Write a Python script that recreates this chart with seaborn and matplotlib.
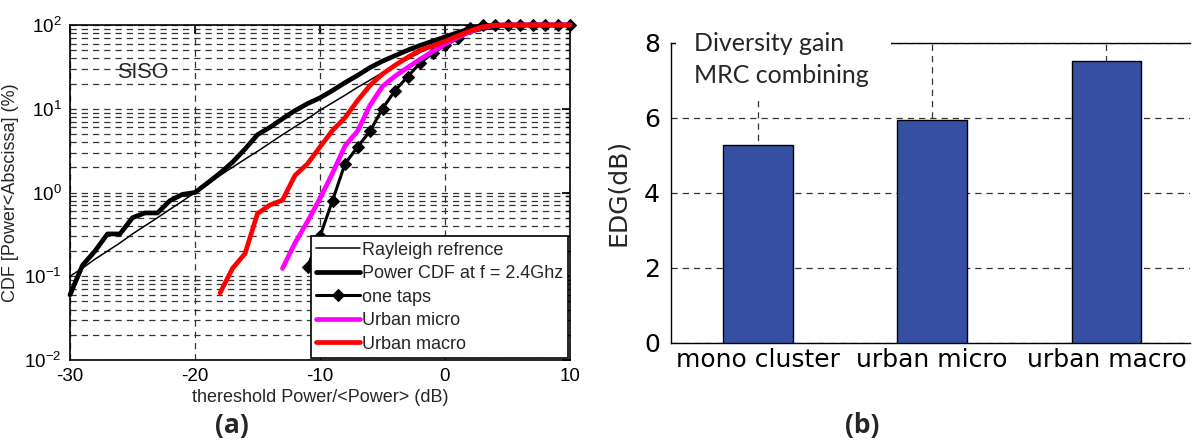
import matplotlib
matplotlib.use("Agg")
import matplotlib.pyplot as plt
from matplotlib.patches import Rectangle
import seaborn as sns

# ---- data ----
# (a) CDF curves, x in dB, y in %
db_ref = [-30, -29, -28, -27, -26, -25, -24, -23, -22, -21, -20, -19, -18, -17,
          -16, -15, -14, -13, -12, -11, -10, -9, -8, -7, -6, -5, -4, -3, -2,
          -1, 0, 1, 2, 3, 4, 5, 6, 7, 8, 9, 10]
rayleigh = [0.10, 0.125, 0.16, 0.20, 0.25, 0.32, 0.40, 0.50, 0.63, 0.79, 1.0,
            1.25, 1.6, 2.0, 2.5, 3.1, 3.9, 4.9, 6.1, 7.6, 9.6, 11.8, 14.5, 18,
            22, 27, 33, 39, 47, 55, 63, 72, 80, 87, 92, 96, 98, 99.4, 99.8,
            100, 100]
power_cdf = [0.06, 0.135, 0.2, 0.32, 0.32, 0.5, 0.57, 0.57, 0.8, 0.95, 1.0,
             1.3, 1.7, 2.3, 3.3, 4.9, 6.0, 7.6, 9.5, 11.5, 13.5, 16.5, 20.5, 25,
             31, 37, 43, 50, 57, 64, 72, 81, 90, 96, 99, 100, 100, 100, 100,
             100, 100]

db_taps = [-11, -10, -9, -8, -7, -6, -5, -4, -3, -2, -1, 0, 1, 2, 3, 4, 5, 6,
           7, 8, 9, 10]
one_taps = [0.13, 0.3, 0.8, 2.2, 3.5, 5.4, 10, 16.5, 24, 35, 46, 57, 69, 93,
            100, 100, 100, 100, 100, 100, 100, 100]

db_micro = [-13, -12, -11, -10, -9, -8, -7, -6, -5, -4, -3, -2, -1, 0, 1, 2,
            3, 4, 5, 6, 7, 8, 9, 10]
urban_micro = [0.124, 0.25, 0.45, 0.85, 1.7, 3.6, 5.4, 11, 18.5, 24.5, 31, 39,
               48, 59, 71, 83, 94, 99, 100, 100, 100, 100, 100, 100]

db_macro = [-18, -17, -16, -15, -14, -13, -12, -11, -10, -9, -8, -7, -6, -5,
            -4, -3, -2, -1, 0, 1, 2, 3, 4, 5, 6, 7, 8, 9, 10]
urban_macro = [0.063, 0.124, 0.186, 0.56, 0.71, 0.81, 1.6, 2.2, 3.5, 5.5, 7.8,
               12.5, 19, 26, 33, 41, 50, 56, 64, 74, 85, 95, 99.5, 100, 100,
               100, 100, 100, 100]

# (b) diversity gain
scenarios = ["mono cluster", "urban micro", "urban macro"]
edg_db = [5.27, 5.94, 7.51]

sns.set_theme(style="white")
plt.rcParams["font.family"] = ["Liberation Sans", "DejaVu Sans"]
plt.rcParams["mathtext.default"] = "regular"
plt.rcParams["axes.unicode_minus"] = False

fig = plt.figure(figsize=(11.92, 4.45), dpi=100)
W, H = 1192, 445

grid_kw = dict(color="#333333", linestyle=(0, (5, 4)), linewidth=0.9)

# ---------------- (a) ----------------
ax = fig.add_axes([70 / W, (H - 360) / H, 500 / W, 335 / H])
sns.lineplot(x=db_ref, y=rayleigh, ax=ax, color="black", linewidth=1.1,
             label="Rayleigh refrence", clip_on=False, zorder=3)
sns.lineplot(x=db_ref, y=power_cdf, ax=ax, color="black", linewidth=3.4,
             label="Power CDF at f = 2.4Ghz", clip_on=False, zorder=3)
sns.lineplot(x=db_taps, y=one_taps, ax=ax, color="black", linewidth=2.2,
             marker="D", markersize=6.5, markeredgecolor="black",
             label="one taps", clip_on=False, zorder=3)
sns.lineplot(x=db_micro, y=urban_micro, ax=ax, color="#ff00ff", linewidth=3.4,
             label="Urban micro", clip_on=False, zorder=3)
sns.lineplot(x=db_macro, y=urban_macro, ax=ax, color="#ff0000", linewidth=3.4,
             label="Urban macro", clip_on=False, zorder=3)

ax.set_yscale("log")
ax.set_xlim(-30, 10)
ax.set_ylim(1e-2, 1e2)
ax.set_xticks([-30, -20, -10, 0, 10])
ax.grid(True, which="major", axis="x", **grid_kw)
ax.grid(True, which="both", axis="y", **grid_kw)
ax.tick_params(which="both", direction="in", top=True, right=True,
               labelsize=13.5, colors="black", pad=6)
ax.tick_params(which="major", length=6)
ax.tick_params(which="minor", length=3)
for s in ax.spines.values():
    s.set_color("black")
    s.set_linewidth(1.2)
ax.set_xlabel("thereshold Power/<Power> (dB)", fontsize=13, labelpad=3)
ax.set_ylabel("CDF [Power<Abscissa] (%)", fontsize=13, labelpad=4)
ax.text(-26.2, 27, "SISO", fontsize=15.5, va="center", ha="left")

leg = ax.legend(loc="lower right", fontsize=13, frameon=True, fancybox=False,
                edgecolor="black", framealpha=1, borderaxespad=0.1,
                handlelength=2.4, handletextpad=0.1, labelspacing=0.36,
                borderpad=0.3)
leg.get_frame().set_linewidth(1.2)

fig.text(232 / W, 1 - 425 / H, "(a)", fontsize=19, fontweight="bold",
         family=["Open Sans", "DejaVu Sans"], ha="center", va="center")

# ---------------- (b) ----------------
ax2 = fig.add_axes([671 / W, (H - 342.7) / H, 519 / W, 300 / H])
sns.barplot(x=scenarios, y=edg_db, ax=ax2, color="#3550a2", saturation=1,
            width=0.4, edgecolor="black", linewidth=1.0, zorder=3)
ax2.set_axisbelow(True)
ax2.set_xlim(-0.5, 2.48)
ax2.set_ylim(0, 8)
ax2.set_yticks([0, 2, 4, 6, 8])
ax2.grid(True, axis="both", **grid_kw)
ax2.spines["right"].set_visible(False)
for s in ["left", "bottom", "top"]:
    ax2.spines[s].set_color("black")
    ax2.spines[s].set_linewidth(1.0)
ax2.tick_params(axis="both", direction="in", length=8, colors="black",
                labelsize=18, pad=4)
ax2.tick_params(axis="y", pad=8)
for lbl in ax2.get_xticklabels() + ax2.get_yticklabels():
    lbl.set_family("DejaVu Sans")
ax2.set_xlabel("")
ax2.set_ylabel("EDG(dB)", fontsize=18, family="DejaVu Sans", labelpad=10)

# white box behind the annotation, hiding the top spine / grid there
ax2.add_patch(Rectangle((0.01, 0.82), 0.414, 0.25, transform=ax2.transAxes,
                        facecolor="white", edgecolor="none", zorder=5,
                        clip_on=False))
txt_kw = dict(transform=ax2.transAxes, fontsize=18, ha="left", va="baseline",
              family=["Lato", "DejaVu Sans"], zorder=6)
ax2.text(0.044, 0.973, "Diversity gain", **txt_kw)
ax2.text(0.044, 0.866, "MRC combining", **txt_kw)

fig.text(862 / W, 1 - 425 / H, "(b)", fontsize=19, fontweight="bold",
         family=["Open Sans", "DejaVu Sans"], ha="center", va="center")

fig.savefig("out.png", dpi=100)
